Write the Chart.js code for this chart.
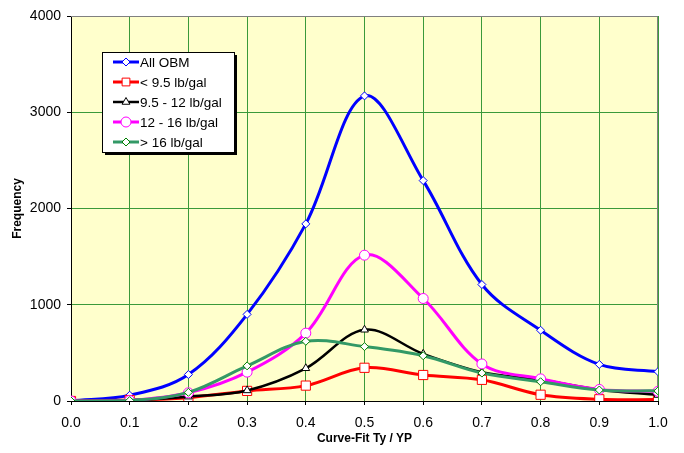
<!DOCTYPE html>
<html>
<head>
<meta charset="utf-8">
<script src="https://cdn.jsdelivr.net/npm/chart.js@4/dist/chart.umd.min.js"></script>
<style>
  html, body { margin: 0; padding: 0; background: #fff; }
  #wrap { width: 684px; height: 453px; position: relative; }
</style>
</head>
<body>
<div id="wrap"><canvas id="freqChart"></canvas></div>
<script>
// ---- data ----
const xValues   = [0.0, 0.1, 0.2, 0.3, 0.4, 0.5, 0.6, 0.7, 0.8, 0.9, 1.0];
const allObm    = [0, 60, 275, 900, 1840, 3170, 2290, 1210, 735, 380, 305];
const under95   = [0, 10, 35, 105, 160, 345, 270, 220, 65, 18, 15];
const mid9512   = [0, 8, 45, 110, 340, 740, 490, 300, 220, 118, 62];
const mid1216   = [0, 5, 85, 300, 705, 1515, 1065, 385, 230, 120, 100];
const over16    = [0, 5, 90, 365, 620, 565, 470, 290, 200, 114, 105];
const seriesLabels = ['All OBM', '< 9.5 lb/gal', '9.5 - 12 lb/gal', '12 - 16 lb/gal', '> 16 lb/gal'];
const yTicks = [0, 1000, 2000, 3000, 4000];

const FONT = "Arial, 'Liberation Sans', sans-serif";

function pts(arr) {
    return xValues.map((x, i) => ({ x: x, y: arr[i] }));
}

// series look
const looks = [
    { color: '#0000FF', width: 3, style: 'rectRot',  r: 4,   edge: '#0000FF', order: 4 },
    { color: '#FF0000', width: 3, style: 'rect',     r: 6.5, edge: '#FF0000', order: 3 },
    { color: '#000000', width: 2.5, style: 'triangle', r: 4.5, edge: '#000000', order: 2 },
    { color: '#FF00FF', width: 3, style: 'circle',   r: 5,   edge: '#FF00FF', order: 1 },
    { color: '#339966', width: 3, style: 'rectRot',  r: 4,   edge: '#008000', order: 0 }
];
const seriesData = [allObm, under95, mid9512, mid1216, over16];

const datasets = seriesData.map((arr, i) => ({
    label: seriesLabels[i],
    data: pts(arr),
    borderColor: looks[i].color,
    backgroundColor: looks[i].color,
    borderWidth: looks[i].width,
    pointStyle: looks[i].style,
    pointRadius: looks[i].r,
    pointBackgroundColor: '#FFFFFF',
    pointBorderColor: looks[i].edge,
    pointBorderWidth: 1,
    tension: 0.35,
    fill: false,
    order: looks[i].order
}));

// yellow plot area + grey top/right frame
const plotBackground = {
    id: 'plotBackground',
    beforeDraw(chart) {
        const { ctx, chartArea: a } = chart;
        ctx.save();
        ctx.fillStyle = '#FFFFCC';
        ctx.fillRect(a.left, a.top, a.right - a.left, a.bottom - a.top);
        ctx.restore();
    },
    beforeDatasetsDraw(chart) {
        const { ctx, chartArea: a } = chart;
        ctx.save();
        ctx.strokeStyle = '#808080';
        ctx.lineWidth = 1;
        ctx.beginPath();
        ctx.moveTo(a.left, a.top + 0.5);
        ctx.lineTo(a.right - 0.5, a.top + 0.5);
        ctx.lineTo(a.right - 0.5, a.bottom);
        ctx.stroke();
        ctx.restore();
    }
};

function drawMarker(ctx, style, x, y, r) {
    ctx.beginPath();
    if (style === 'circle') {
        ctx.arc(x, y, r, 0, Math.PI * 2);
    } else if (style === 'rect') {
        const s = r * Math.SQRT1_2;
        ctx.rect(x - s, y - s, 2 * s, 2 * s);
    } else if (style === 'rectRot') {
        ctx.moveTo(x - r, y);
        ctx.lineTo(x, y - r);
        ctx.lineTo(x + r, y);
        ctx.lineTo(x, y + r);
        ctx.closePath();
    } else if (style === 'triangle') {
        const h = r * 1.5, side = h * 2 / Math.sqrt(3);
        ctx.moveTo(x - side / 2, y + h / 3);
        ctx.lineTo(x + side / 2, y + h / 3);
        ctx.lineTo(x, y - 2 * h / 3);
        ctx.closePath();
    }
    ctx.fill();
    ctx.stroke();
}

// boxed legend inside the plot, like the original
const boxLegend = {
    id: 'boxLegend',
    afterDraw(chart) {
        const ctx = chart.ctx;
        const bx = 102, by = 52, bw = 132, bh = 100;
        ctx.save();
        ctx.fillStyle = '#000';
        ctx.fillRect(bx + 3, by + 3, bw, bh);
        ctx.fillStyle = '#fff';
        ctx.fillRect(bx, by, bw, bh);
        ctx.strokeStyle = '#000';
        ctx.lineWidth = 1;
        ctx.strokeRect(bx + 0.5, by + 0.5, bw, bh);

        ctx.font = '13.5px ' + FONT;
        ctx.textBaseline = 'middle';
        chart.data.datasets.forEach((ds, i) => {
            const y = 62 + i * 20;
            ctx.strokeStyle = ds.borderColor;
            ctx.lineWidth = ds.borderWidth;
            ctx.beginPath();
            ctx.moveTo(113, y);
            ctx.lineTo(139, y);
            ctx.stroke();
            ctx.fillStyle = '#fff';
            ctx.strokeStyle = ds.pointBorderColor;
            ctx.lineWidth = 1;
            drawMarker(ctx, ds.pointStyle, 126, y, Math.min(ds.pointRadius, 5.5));
            ctx.fillStyle = '#000';
            ctx.fillText(ds.label, 140, y + 1);
        });
        ctx.restore();
    }
};

const gridGreen = '#3a9a3a';

new Chart(document.getElementById('freqChart'), {
    type: 'line',
    data: { datasets: datasets },
    options: {
        responsive: true,
        maintainAspectRatio: false,
        animation: false,
        layout: { padding: { left: 0, top: 16, right: 26, bottom: 0 } },
        plugins: {
            legend: { display: false },
            tooltip: { enabled: false }
        },
        scales: {
            x: {
                type: 'linear',
                min: 0,
                max: 1,
                afterFit(scale) { scale.height = 52; },
                ticks: {
                    stepSize: 0.1,
                    color: '#000',
                    padding: 10,
                    maxRotation: 0,
                    font: { family: FONT, size: 14 },
                    callback: v => v.toFixed(1)
                },
                grid: { color: gridGreen, lineWidth: 1, tickColor: '#000', tickLength: 4 },
                border: { color: '#000', width: 1 },
                title: {
                    display: true,
                    text: 'Curve-Fit Ty / YP',
                    color: '#000',
                    font: { family: FONT, size: 12, weight: 'bold' },
                    padding: { top: 0, bottom: 7 }
                }
            },
            y: {
                min: 0,
                max: 4000,
                afterFit(scale) { scale.width = 71; },
                afterBuildTicks(scale) { scale.ticks = yTicks.map(v => ({ value: v })); },
                ticks: {
                    color: '#000',
                    padding: 6,
                    font: { family: FONT, size: 14 },
                    callback: v => String(v)
                },
                grid: { color: gridGreen, lineWidth: 1, tickColor: '#000', tickLength: 4 },
                border: { color: '#000', width: 1 },
                title: {
                    display: true,
                    text: 'Frequency',
                    color: '#000',
                    font: { family: FONT, size: 12, weight: 'bold' },
                    padding: { top: 10, bottom: 0 }
                }
            }
        }
    },
    plugins: [plotBackground, boxLegend]
});
</script>
</body>
</html>
